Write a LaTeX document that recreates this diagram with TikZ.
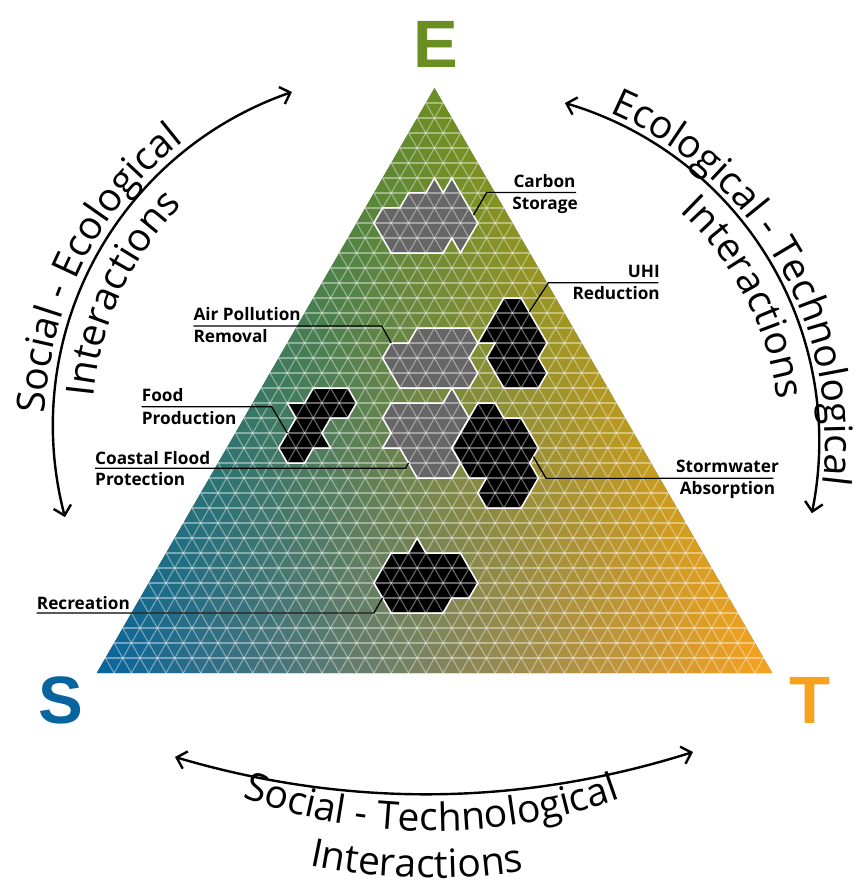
\documentclass[tikz,border=0pt]{standalone}
\usepackage{fontspec}
\setmainfont{Open Sans}
\newfontfamily\bigfont{Liberation Sans}
\usetikzlibrary{arrows.meta,decorations.text}
\definecolor{colE}{RGB}{107,142,35}
\definecolor{colS}{RGB}{8,100,158}
\definecolor{colT}{RGB}{247,162,30}
\definecolor{shgray}{RGB}{102,102,102}
\newcommand{\tp}[2]{({434.5+((#2)-(#1)/2)*17.3205},{88+15*(#1)})}
\newcommand{\arcfnt}{\fontsize{39}{40}\selectfont}
\newcommand{\lblfnt}{\fontsize{17.2}{20}\selectfont\bfseries}
\newcommand{\carbonpath}{\tp{6}{3} -- \tp{7}{4} -- \tp{6}{4} -- \tp{9}{7} -- \tp{11}{7} -- \tp{10}{6} -- \tp{11}{6} -- \tp{11}{3} -- \tp{9}{1} -- \tp{8}{1} -- \tp{8}{2} -- \tp{7}{2} -- \tp{7}{3} -- cycle}
\newcommand{\uhipath}{\tp{14}{11} -- \tp{14}{12} -- \tp{17}{15} -- \tp{18}{15} -- \tp{19}{16} -- \tp{20}{16} -- \tp{20}{14} -- \tp{18}{12} -- \tp{17}{12} -- \tp{17}{11} -- cycle}
\newcommand{\airpath}{\tp{16}{7} -- \tp{16}{10} -- \tp{17}{11} -- \tp{18}{11} -- \tp{19}{12} -- \tp{20}{12} -- \tp{20}{8} -- \tp{18}{6} -- \tp{17}{6} -- \tp{17}{7} -- cycle}
\newcommand{\midpath}{\tp{20}{11} -- \tp{21}{12} -- \tp{22}{13} -- \tp{24}{13} -- \tp{25}{14} -- \tp{26}{14} -- \tp{26}{12} -- \tp{24}{10} -- \tp{24}{9} -- \tp{23}{9} -- \tp{22}{8} -- \tp{21}{8} -- \tp{21}{11} -- cycle}
\newcommand{\stormpath}{\tp{21}{13} -- \tp{21}{14} -- \tp{22}{15} -- \tp{22}{16} -- \tp{24}{18} -- \tp{25}{18} -- \tp{26}{19} -- \tp{28}{19} -- \tp{28}{17} -- \tp{27}{16} -- \tp{26}{16} -- \tp{26}{15} -- \tp{24}{13} -- cycle}
\newcommand{\foodpath}{\tp{20}{3} -- \tp{20}{5} -- \tp{21}{6} -- \tp{22}{6} -- \tp{22}{5} -- \tp{23}{5} -- \tp{24}{6} -- \tp{24}{5} -- \tp{25}{5} -- \tp{25}{4} -- \tp{24}{3} -- \tp{22}{3} -- \tp{21}{2} -- \tp{21}{3} -- cycle}
\newcommand{\recpath}{\tp{30}{14} -- \tp{31}{15} -- \tp{31}{17} -- \tp{33}{19} -- \tp{34}{19} -- \tp{34}{18} -- \tp{35}{18} -- \tp{35}{15} -- \tp{33}{13} -- \tp{31}{13} -- \tp{31}{14} -- cycle}
\tikzset{
  gridline/.style={white, opacity=0.4, line width=1.1pt},
  shapeline/.style={white, line width=1.5pt, line join=round},
  leader/.style={black, line width=1.3pt},
  lbl/.style={font=\lblfnt, inner sep=0pt},
  bigletter/.style={font=\bigfont\bfseries\fontsize{67}{67}\selectfont, inner sep=0pt},
  arcarrow/.style={line width=2.4pt, {Straight Barb[length=9pt,width=18pt]}-{Straight Barb[length=9pt,width=18pt]}},
  arctext/.style={decorate, decoration={text along path, text align=center, text={#1}}}
}
\begin{document}
\begin{tikzpicture}[x=1pt,y=-1pt]
\useasboundingbox (0,0) rectangle (855,893);
% gradient cells
\fill[colE!40!colS!70!colT] \tp{0}{0} -- \tp{39}{0} -- \tp{39}{39} -- cycle;
\foreach \j in {0,...,38}{
  \foreach \i in {0,...,\j}{
    \pgfmathtruncatemacro{\pp}{round(100*(39-\j-2/3)/(39-\i-1/3))}
    \pgfmathtruncatemacro{\qq}{round(100*(39-\i-1/3)/39)}
    \colorlet{cellA}{colE!\pp!colS}
    \colorlet{cellB}{cellA!\qq!colT}
    \fill[cellB] \tp{\j}{\i} -- \tp{\j+1}{\i} -- \tp{\j+1}{\i+1} -- cycle;
    \ifnum\i<\j
      \pgfmathtruncatemacro{\pp}{round(100*(39-\j-1/3)/(39-\i-2/3))}
      \pgfmathtruncatemacro{\qq}{round(100*(39-\i-2/3)/39)}
      \colorlet{cellA}{colE!\pp!colS}
      \colorlet{cellB}{cellA!\qq!colT}
      \fill[cellB] \tp{\j}{\i} -- \tp{\j}{\i+1} -- \tp{\j+1}{\i+1} -- cycle;
    \fi
  }
}
% shapes
\fill[shgray] \carbonpath;
\fill[shgray] \airpath;
\fill[shgray] \midpath;
\fill[black] \uhipath;
\fill[black] \stormpath;
\fill[black] \foodpath;
\fill[black] \recpath;
% grid
\foreach \k in {1,...,38}{
  \draw[gridline] \tp{\k}{0} -- \tp{\k}{\k};
  \draw[gridline] \tp{\k}{\k} -- \tp{39}{\k};
  \draw[gridline] \tp{\k}{0} -- \tp{39}{39-\k};
}
% outlines
\draw[shapeline] \carbonpath;
\draw[shapeline] \airpath;
\draw[shapeline] \midpath;
\draw[shapeline] \uhipath;
\draw[shapeline] \stormpath;
\draw[shapeline] \foodpath;
\draw[shapeline] \recpath;
% leaders and labels
\coordinate (cbA) at (473.5,215); \coordinate (cbB) at (486.7,192.5); \coordinate (cbC) at (576,192.5);
\draw[leader] (cbA) -- (cbB) -- (cbC);
\node[lbl, anchor=base] (cb1) at (544.5,187.5) {Carbon};
\node[lbl, anchor=base] (cb2) at (545,209.5) {Storage};
\coordinate (uhA) at (529.5,311.7); \coordinate (uhB) at (548.3,282.7); \coordinate (uhC) at (658.3,282.7);
\draw[leader] (uhA) -- (uhB) -- (uhC);
\node[lbl, anchor=base east] (uh1) at (660,277.5) {UHI};
\node[lbl, anchor=base east] (uh2) at (660,299.5) {Reduction};
\coordinate (apA) at (391.2,343); \coordinate (apB) at (381.7,326); \coordinate (apC) at (193.3,326);
\draw[leader] (apA) -- (apB) -- (apC);
\node[lbl, anchor=base west] (ap1) at (193.3,320.7) {Air Pollution};
\node[lbl, anchor=base west] (ap2) at (193.3,342.7) {Removal};
\coordinate (fdA) at (287.3,433); \coordinate (fdB) at (271.7,406.7); \coordinate (fdC) at (141.7,406.7);
\draw[leader] (fdA) -- (fdB) -- (fdC);
\node[lbl, anchor=base west] (fd1) at (141.7,401.7) {Food};
\node[lbl, anchor=base west] (fd2) at (141.7,424.3) {Production};
\coordinate (cfA) at (408.5,463); \coordinate (cfB) at (405.6,468.3); \coordinate (cfC) at (95,468.3);
\draw[leader] (cfA) -- (cfB) -- (cfC);
\node[lbl, anchor=base west] (cf1) at (95,464.3) {Coastal Flood};
\node[lbl, anchor=base west] (cf2) at (95,485) {Protection};
\coordinate (swA) at (533.4,456.7); \coordinate (swB) at (546,478.3); \coordinate (swC) at (773.3,478.3);
\draw[leader] (swA) -- (swB) -- (swC);
\node[lbl, anchor=base] (sw1) at (727.5,472.3) {Stormwater};
\node[lbl, anchor=base] (sw2) at (727.5,494) {Absorption};
\coordinate (rcA) at (382.5,598); \coordinate (rcB) at (373.9,613); \coordinate (rcC) at (36.7,613);
\draw[leader] (rcA) -- (rcB) -- (rcC);
\node[lbl, anchor=base west] (rc1) at (36.7,609.5) {Recreation};
% corner letters
\node[bigletter, text=colE] (E) at (435.5,44) {E};
\node[bigletter, text=colS] (S) at (60.5,700) {S};
\node[bigletter, text=colT] (T) at (810,700) {T};
% left arc (centre 404.8,425.4)
\draw[arcarrow] plot[domain=164.9:251.3, samples=90, variable=\t] ({404.8+352*cos(\t)},{425.4+352*sin(\t)});
\path[arctext={|\arcfnt|Social - Ecological}] plot[domain=147:267, samples=120, variable=\t] ({404.8+360*cos(\t)},{425.4+360*sin(\t)});
\path[arctext={|\arcfnt|Interactions}] plot[domain=155:255, samples=120, variable=\t] ({404.8+313*cos(\t)},{425.4+313*sin(\t)});
% right arc (centre 467.3,441.2)
\draw[arcarrow] plot[domain=-73.9:11.8, samples=90, variable=\t] ({467.3+352*cos(\t)},{441.2+352*sin(\t)});
\path[arctext={|\arcfnt|Ecological - Technological}] plot[domain=-89.8:30.2, samples=120, variable=\t] ({467.3+358*cos(\t)},{441.2+358*sin(\t)});
\path[arctext={|\arcfnt|Interactions}] plot[domain=-77.4:22.6, samples=120, variable=\t] ({467.3+313*cos(\t)},{441.2+313*sin(\t)});
% bottom arc
\coordinate (BA) at (175,757); \coordinate (BB) at (693,752);
\coordinate (BC1) at (347.7,808); \coordinate (BC2) at (520.3,806.5);
\draw[arcarrow] (BA) .. controls (BC1) and (BC2) .. (BB);
\path[arctext={|\arcfnt|Social - Technological}] plot[domain=0:1, samples=120, variable=\t] ({432+560*cos(140-100*\t)},{271+560*sin(140-100*\t)});
\path[arctext={|\arcfnt|Interactions}] plot[domain=0:1, samples=120, variable=\t] ({432+607*cos(141.4-100*\t)},{271+607*sin(141.4-100*\t)});
\end{tikzpicture}
\end{document}
